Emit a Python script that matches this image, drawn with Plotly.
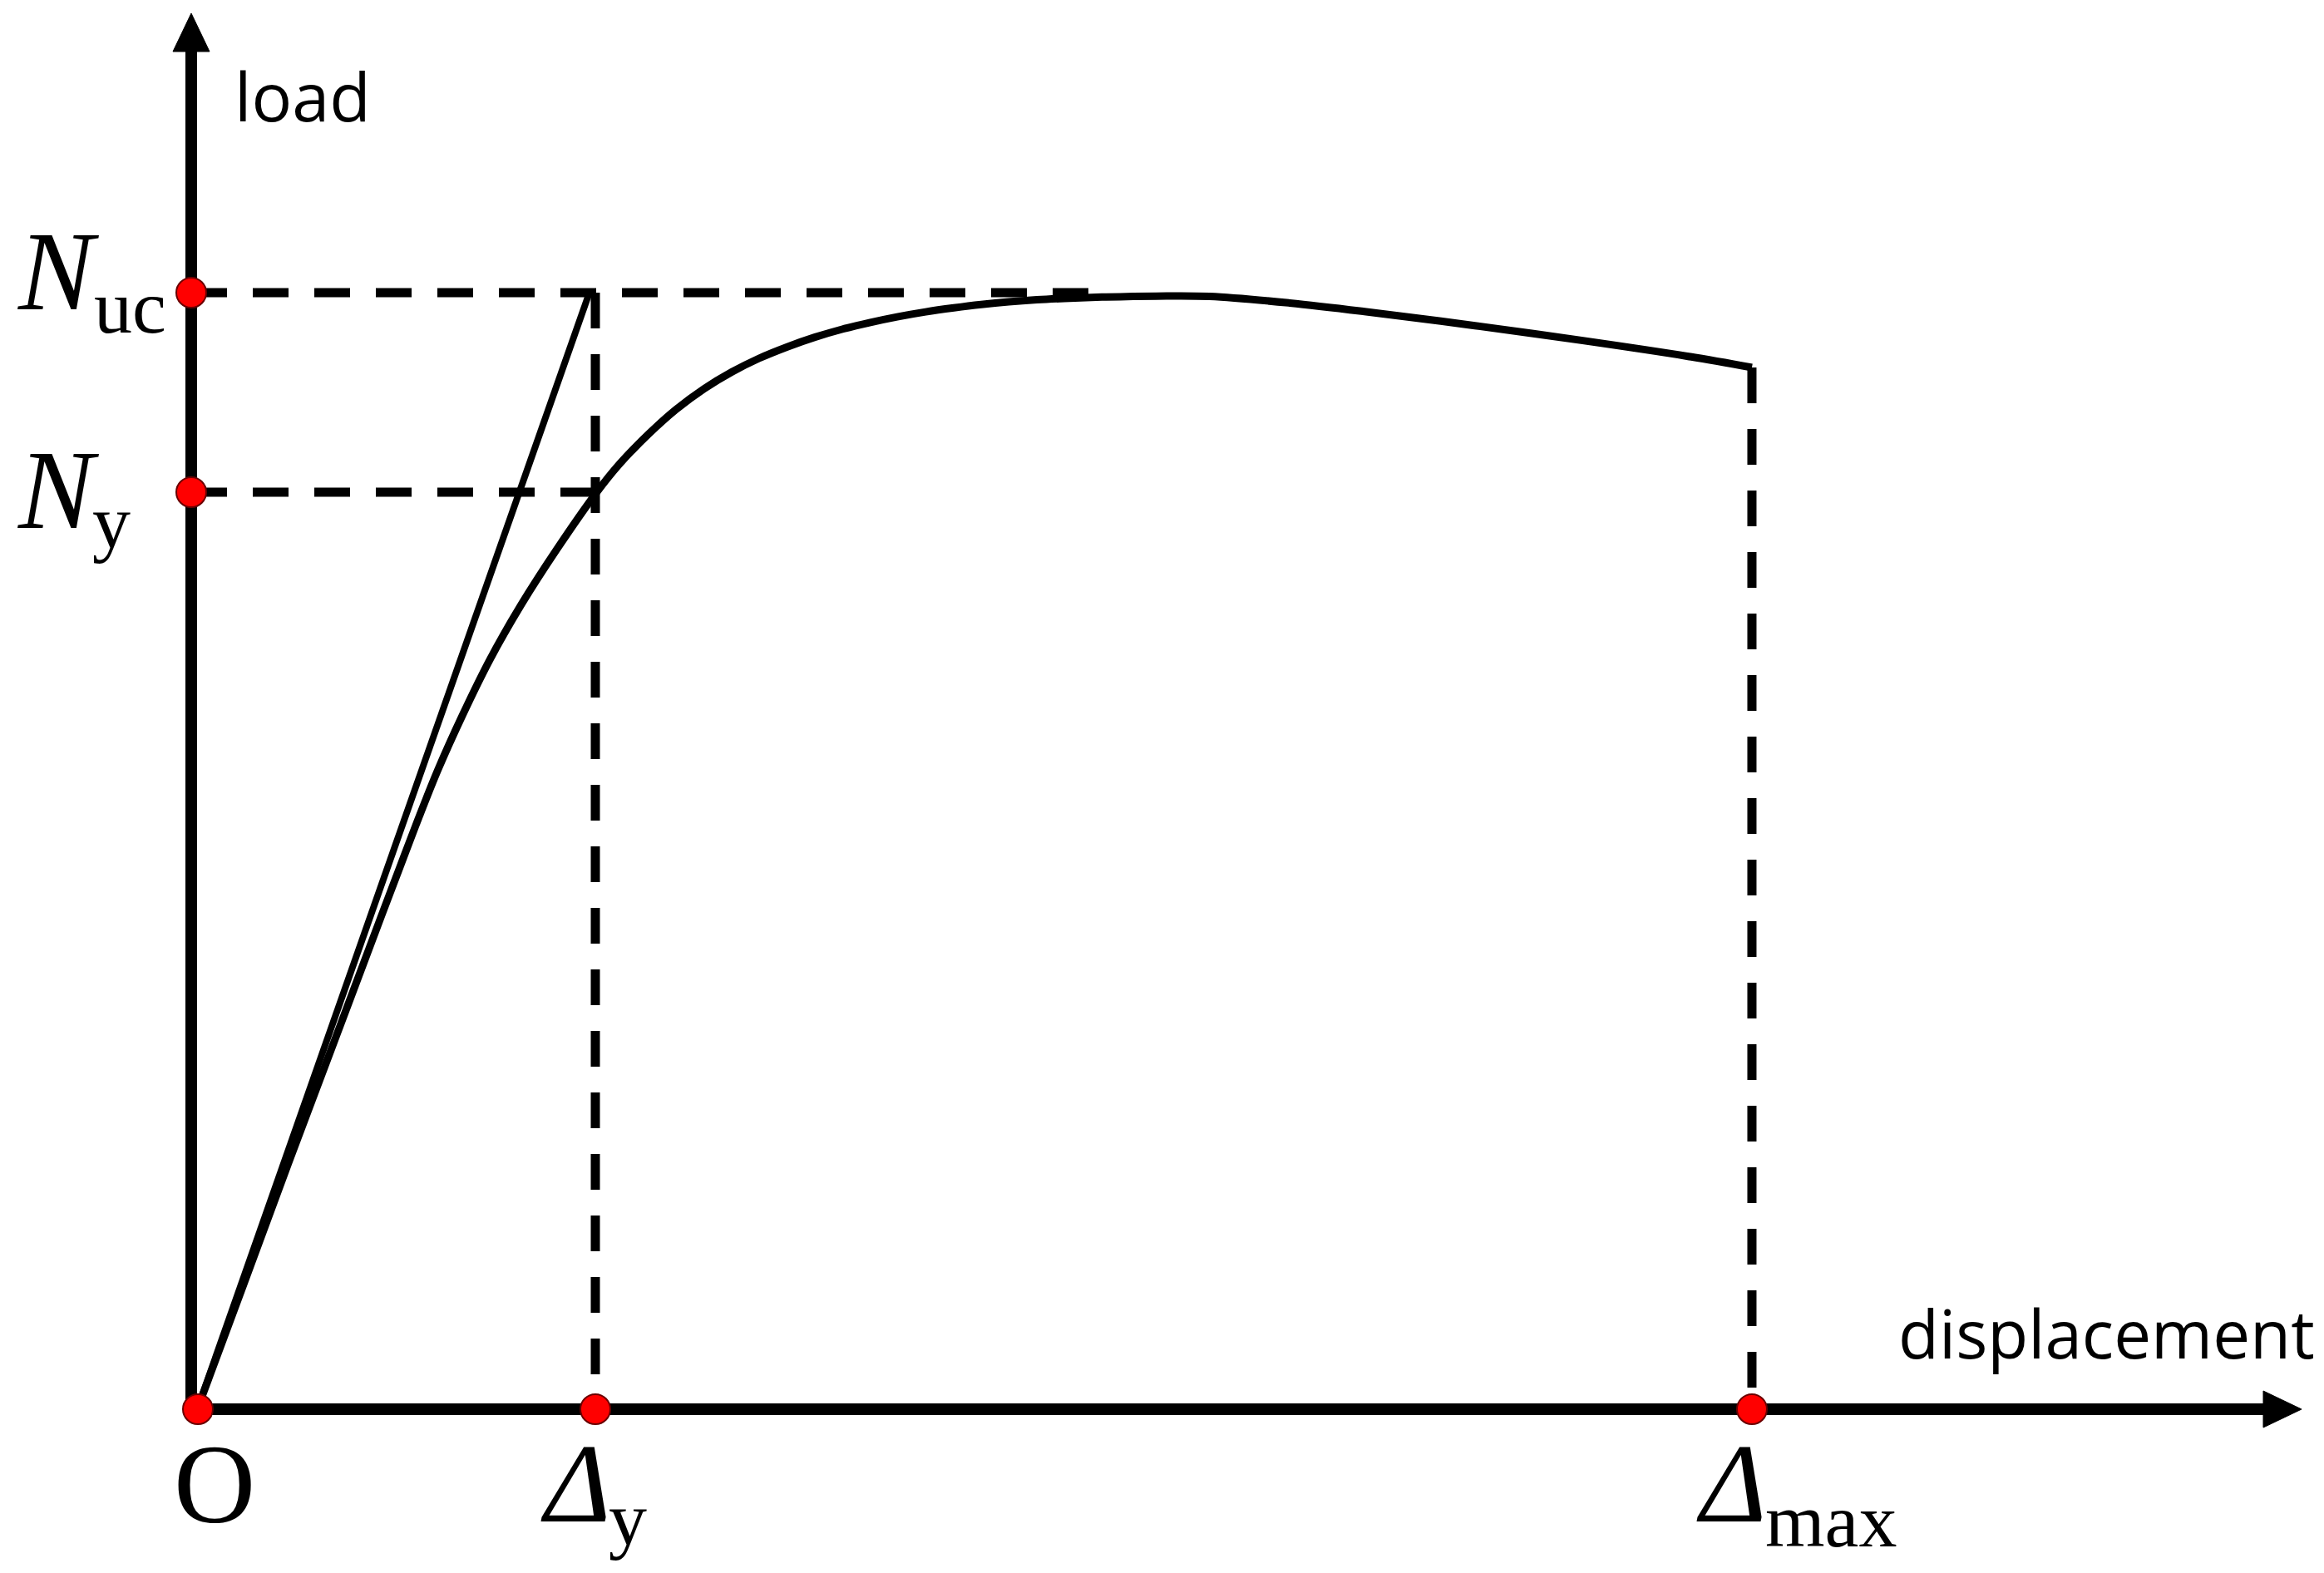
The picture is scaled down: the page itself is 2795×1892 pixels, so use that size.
import plotly.graph_objects as go

# ---------------- data ----------------
disp = [0, 1.15, 2.27, 3.53, 4.63, 5.05, 5.48, 6.03, 6.66, 7.35,
        8.14, 9.04, 10.02, 10.6, 11.34, 12.03, 12.74, 13.43, 14.12, 14.83,
        15.52, 16.21, 16.92, 17.62, 18.31, 19.02, 19.71, 20.4, 21.11, 21.8,
        22.85, 24.1, 25.46, 27.47, 29.48, 32.13, 34.81, 37.47, 39.1]
load = [0, 110.4, 218.5, 337.8, 442.2, 481.7, 522.0, 571.2, 621.2, 671.1,
        720.4, 770.3, 820.3, 846.0, 873.2, 895.2, 913.9, 928.8, 941.1, 951.4,
        960.0, 967.2, 973.3, 978.5, 982.8, 986.4, 989.4, 991.8, 993.6, 994.8,
        996.1, 996.9, 996.6, 990.7, 982.5, 970.4, 957.2, 943.0, 932.9]

N_UC = 1000.0        # ultimate load
N_Y = 821.0          # yield load
DELTA_Y = 10.0       # yield displacement
DELTA_MAX = 39.1     # maximum displacement
SECANT_TOP_X = 9.85  # top of the secant line (at N_uc)
NUC_GUIDE_END = 22.5 # where the N_uc guide line stops

axis_titles = ["load", "displacement"]
origin_label = "O"
y_labels = [("N", "uc"), ("N", "y")]
x_labels = [("Δ", "y"), ("Δ", "max")]

# ---------------- layout constants ----------------
W, H = 2795, 1892
X0_PX, PX_PER_X = 238.0, 47.8
Y0_PX, PX_PER_Y = 1693.0, 1.341


def px2x(px):
    return (px - X0_PX) / PX_PER_X


def py2y(py):
    return (Y0_PX - py) / PX_PER_Y


YAXIS_X = px2x(230)
XAXIS_Y = py2y(1695)

DASH = "43px,31px"
fig = go.Figure()

# dashed guide lines
guide = dict(color="black", width=11, dash=DASH)
fig.add_trace(go.Scatter(x=[YAXIS_X, NUC_GUIDE_END], y=[N_UC, N_UC], mode="lines", line=guide))
fig.add_trace(go.Scatter(x=[YAXIS_X, DELTA_Y], y=[N_Y, N_Y], mode="lines", line=guide))
fig.add_trace(go.Scatter(x=[DELTA_Y, DELTA_Y], y=[N_UC, XAXIS_Y], mode="lines", line=guide))
fig.add_trace(go.Scatter(x=[DELTA_MAX, DELTA_MAX], y=[load[-1], XAXIS_Y], mode="lines", line=guide))

# secant line
fig.add_trace(go.Scatter(x=[0, SECANT_TOP_X], y=[0, N_UC], mode="lines",
                         line=dict(color="black", width=8)))
# load-displacement curve
fig.add_trace(go.Scatter(x=disp, y=load, mode="lines",
                         line=dict(color="black", width=9, shape="spline",
                                   smoothing=1.0, simplify=False)))

# red key points
fig.add_trace(go.Scatter(
    x=[0, DELTA_Y, DELTA_MAX, YAXIS_X, YAXIS_X],
    y=[XAXIS_Y, XAXIS_Y, XAXIS_Y, N_UC, N_Y],
    mode="markers",
    marker=dict(size=36, color="#ff0000", line=dict(color="#6a0000", width=2)),
))

# axes with arrow heads
shapes = []
shapes.append(dict(type="line", xref="x", yref="y", layer="below",
                   x0=YAXIS_X, x1=YAXIS_X, y0=py2y(1702), y1=py2y(45),
                   line=dict(color="black", width=14)))
shapes.append(dict(type="line", xref="x", yref="y", layer="below",
                   x0=px2x(223), x1=px2x(2735), y0=XAXIS_Y, y1=XAXIS_Y,
                   line=dict(color="black", width=14)))
shapes.append(dict(type="path", xref="x", yref="y", layer="below",
                   path="M {} {} L {} {} L {} {} Z".format(
                       px2x(230), py2y(16), px2x(208), py2y(62), px2x(252), py2y(62)),
                   fillcolor="black", line=dict(color="black", width=1)))
shapes.append(dict(type="path", xref="x", yref="y", layer="below",
                   path="M {} {} L {} {} L {} {} Z".format(
                       px2x(2768), py2y(1695), px2x(2722), py2y(1673), px2x(2722), py2y(1717)),
                   fillcolor="black", line=dict(color="black", width=1)))

annotations = []


def ann(text, px, py, size, family, xanchor="center"):
    annotations.append(dict(
        text=text, xref="paper", yref="paper", x=px / W, y=1 - py / H,
        xanchor=xanchor, yanchor="middle", showarrow=False,
        font=dict(size=size, family=family, color="black")))


SANS = "Open Sans"
SERIF = "Liberation Serif"
BIG, SUB = 136, 92

ann(axis_titles[0], 280, 115, 81, SANS, "left")
ann(axis_titles[1], 2281, 1602, 80, SANS, "left")
ann(origin_label, 258, 1785, BIG, SERIF)

# y labels
ann("<i>%s</i>" % y_labels[0][0], 70, 326, BIG, SERIF)
ann(y_labels[0][1], 156, 369, SUB, SERIF)
ann("<i>%s</i>" % y_labels[1][0], 70, 589, BIG, SERIF)
ann(y_labels[1][1], 134, 628, SUB, SERIF)

# x labels
ann("<i>%s</i>" % x_labels[0][0], 692, 1784, BIG, SERIF)
ann(x_labels[0][1], 755, 1827, SUB, SERIF)
ann("<i>%s</i>" % x_labels[1][0], 2082, 1784, BIG, SERIF)
ann(x_labels[1][1], 2202, 1829, SUB, SERIF)

fig.update_layout(
    width=W, height=H, autosize=False,
    margin=dict(l=0, r=0, t=0, b=0, pad=0),
    paper_bgcolor="white", plot_bgcolor="white",
    showlegend=False,
    xaxis=dict(range=[px2x(0), px2x(W)], visible=False, fixedrange=True),
    yaxis=dict(range=[py2y(H), py2y(0)], visible=False, fixedrange=True),
    shapes=shapes, annotations=annotations,
)

fig.write_html("out.html", config={"displayModeBar": False},
               post_script="document.body.style.margin='0px';")
